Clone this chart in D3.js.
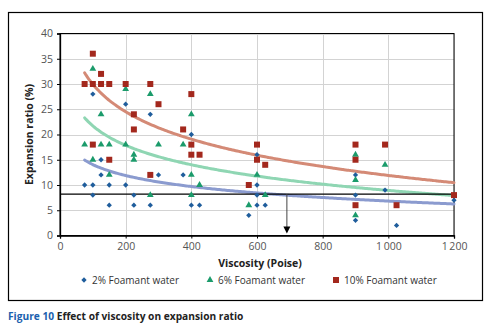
<!DOCTYPE html>
<html>
<head>
<meta charset="utf-8">
<script src="https://cdn.jsdelivr.net/npm/d3@7"></script>
<style>
  body { margin: 0; background: #fff; }
  text { font-family: "Open Sans", "Noto Sans", sans-serif; }
</style>
</head>
<body>
<svg id="chart" width="490" height="327"></svg>
<script>
// viscosity (Poise), expansion ratio (%)
const foam2 = [[75,10],[100,28],[100,10],[100,8],[125,15],[125,12],[150,10],[150,6],[200,26],[200,10],
  [225,8],[225,6],[275,24],[275,6],[300,12],[375,12],[400,20],[400,6],[425,6],[575,4],[600,16],[600,10],
  [600,8],[600,6],[625,6],[900,12],[900,8],[900,3],[990,9],[1025,2],[1200,7]];
const foam6 = [[75,18],[100,33],[100,15],[125,18],[125,24],[150,18],[150,12],[200,29],[200,18],[225,16],
  [225,15],[275,28],[275,8],[300,18],[375,18],[400,24],[400,12],[400,8],[425,10],[575,6],[600,12],[625,8],
  [900,16],[900,11],[900,4],[990,14]];
const foam10 = [[75,30],[100,36],[100,30],[100,18],[125,32],[125,30],[150,30],[150,15],[200,30],[225,24],
  [225,21],[275,30],[275,12],[300,26],[375,21],[400,28],[400,18],[400,16],[425,16],[575,10],[600,18],
  [600,15],[625,14],[900,18],[900,15],[900,6],[990,18],[1025,6],[1200,8]];

// log trendlines y = a + b*ln(x)
const trend2 = [28.51, -3.14];
const trend6 = [47.26, -5.55];
const trend10 = [66.05, -7.84];
const trendRange = [75, 1200];

const xTicks = [0, 200, 400, 600, 800, 1000, 1200];
const yTicks = [0, 5, 10, 15, 20, 25, 30, 35, 40];
const refLevel = 8.2;   // horizontal reference line
const refVisc = 691;    // arrow position

const svg = d3.select('#chart');
const pLeft = 60, pRight = 454, pTop = 33.5, pBottom = 235.5;

const x = d3.scaleLinear().domain([0, 1200]).range([pLeft, pRight]);
const y = d3.scaleLinear().domain([0, 40]).range([pBottom, pTop]);

// outer frame
svg.append('rect').attr('x', 8.5).attr('y', 12.5).attr('width', 474).attr('height', 288)
  .attr('fill', 'none').attr('stroke', '#000').attr('stroke-width', 1.2);

// grid
svg.append('g').selectAll('line').data(yTicks).enter().append('line')
  .attr('x1', pLeft).attr('x2', pRight)
  .attr('y1', d => Math.round(y(d)) + 0.5).attr('y2', d => Math.round(y(d)) + 0.5)
  .attr('stroke', '#d3d3d3');
svg.append('g').selectAll('line').data(xTicks).enter().append('line')
  .attr('y1', pTop).attr('y2', pBottom)
  .attr('x1', d => Math.round(x(d)) + 0.5).attr('x2', d => Math.round(x(d)) + 0.5)
  .attr('stroke', '#d3d3d3');

// plot frame
svg.append('rect').attr('x', pLeft).attr('y', pTop).attr('width', pRight - pLeft).attr('height', pBottom - pTop)
  .attr('fill', 'none').attr('stroke', '#000').attr('stroke-width', 1);

const fmt = d => d >= 1000 ? d3.format(',')(d).replace(',', '\u2009') : String(d);

const xAxis = svg.append('g').attr('transform', 'translate(0,' + pBottom + ')')
  .call(d3.axisBottom(x).tickValues(xTicks).tickSize(3).tickPadding(4).tickFormat(fmt));
const yAxis = svg.append('g').attr('transform', 'translate(' + pLeft + ',0)')
  .call(d3.axisLeft(y).tickValues(yTicks).tickSize(3).tickPadding(4));
[xAxis, yAxis].forEach(a => {
  a.select('.domain').attr('stroke', '#000').attr('stroke-width', 1.3);
  a.selectAll('.tick line').attr('stroke', '#000');
  a.selectAll('.tick text').attr('fill', '#555').style('font-size', '10.5px')
    .style('font-family', '"Open Sans", sans-serif');
});

// trendlines
const curve = t => d3.line()
  .x(d => x(d))
  .y(d => y(t[0] + t[1] * Math.log(d)))
  .curve(d3.curveBasis)(d3.range(trendRange[0], trendRange[1] + 1, 5));
[[trend2, '#8b9bcf'], [trend6, '#8fd6b3'], [trend10, '#d48a76']].forEach(([t, c]) => {
  svg.append('path').attr('d', curve(t)).attr('fill', 'none')
    .attr('stroke', c).attr('stroke-width', 3).attr('stroke-linecap', 'round');
});

// reference line + arrow
svg.append('line').attr('x1', pLeft).attr('x2', pRight)
  .attr('y1', y(refLevel)).attr('y2', y(refLevel)).attr('stroke', '#000').attr('stroke-width', 1.2);
svg.append('line').attr('x1', x(refVisc)).attr('x2', x(refVisc))
  .attr('y1', y(refLevel)).attr('y2', y(0.8)).attr('stroke', '#444').attr('stroke-width', 1);
svg.append('path')
  .attr('d', 'M' + (x(refVisc) - 3.5) + ',' + (y(0.8) - 5) + 'L' + (x(refVisc) + 3.5) + ',' + (y(0.8) - 5) +
    'L' + x(refVisc) + ',' + (y(0.8) + 2) + 'Z')
  .attr('fill', '#000');

// markers
const sym = {
  blue: { data: foam2, fill: '#1f5d9c', path: d3.symbol(d3.symbolSquare, 14)(), rot: 45 },
  green: { data: foam6, fill: '#1b9b6b', path: d3.symbol(d3.symbolTriangle, 20)(), rot: 0 },
  red: { data: foam10, fill: '#a3281d', path: d3.symbol(d3.symbolSquare, 36)(), rot: 0 }
};
['blue', 'green', 'red'].forEach(k => {
  const s = sym[k];
  svg.append('g').selectAll('path').data(s.data).enter().append('path')
    .attr('d', s.path)
    .attr('transform', d => 'translate(' + x(d[0]) + ',' + y(d[1]) + ') rotate(' + s.rot + ')')
    .attr('fill', s.fill);
});

// axis titles
svg.append('text').attr('x', (pLeft + pRight) / 2 + 3).attr('y', 267).attr('text-anchor', 'middle')
  .style('font-size', '10.5px').style('font-weight', 'bold').attr('fill', '#222')
  .text('Viscosity (Poise)');
svg.append('text').attr('transform', 'translate(33,' + ((pTop + pBottom) / 2) + ') rotate(-90)')
  .attr('text-anchor', 'middle').style('font-size', '10.5px').style('font-weight', 'bold').attr('fill', '#222')
  .text('Expansion ratio (%)');

// legend
const legend = [['blue', '2% Foamant water', 84], ['green', '6% Foamant water', 210], ['red', '10% Foamant water', 336]];
legend.forEach(([k, label, lx]) => {
  const s = sym[k];
  svg.append('path').attr('d', s.path).attr('fill', s.fill)
    .attr('transform', 'translate(' + lx + ',280) rotate(' + s.rot + ')');
  svg.append('text').attr('x', lx + 8).attr('y', 283.5).style('font-size', '10px').attr('fill', '#333')
    .text(label);
});

// caption
const cap = svg.append('text').attr('x', 8).attr('y', 320).style('font-size', '10.2px').style('font-weight', 'bold')
  .style('font-family', '"Open Sans", sans-serif');
cap.append('tspan').attr('fill', '#1b5fae').text('Figure 10 ');
cap.append('tspan').attr('fill', '#222').text('Effect of viscosity on expansion ratio');
</script>
</body>
</html>
